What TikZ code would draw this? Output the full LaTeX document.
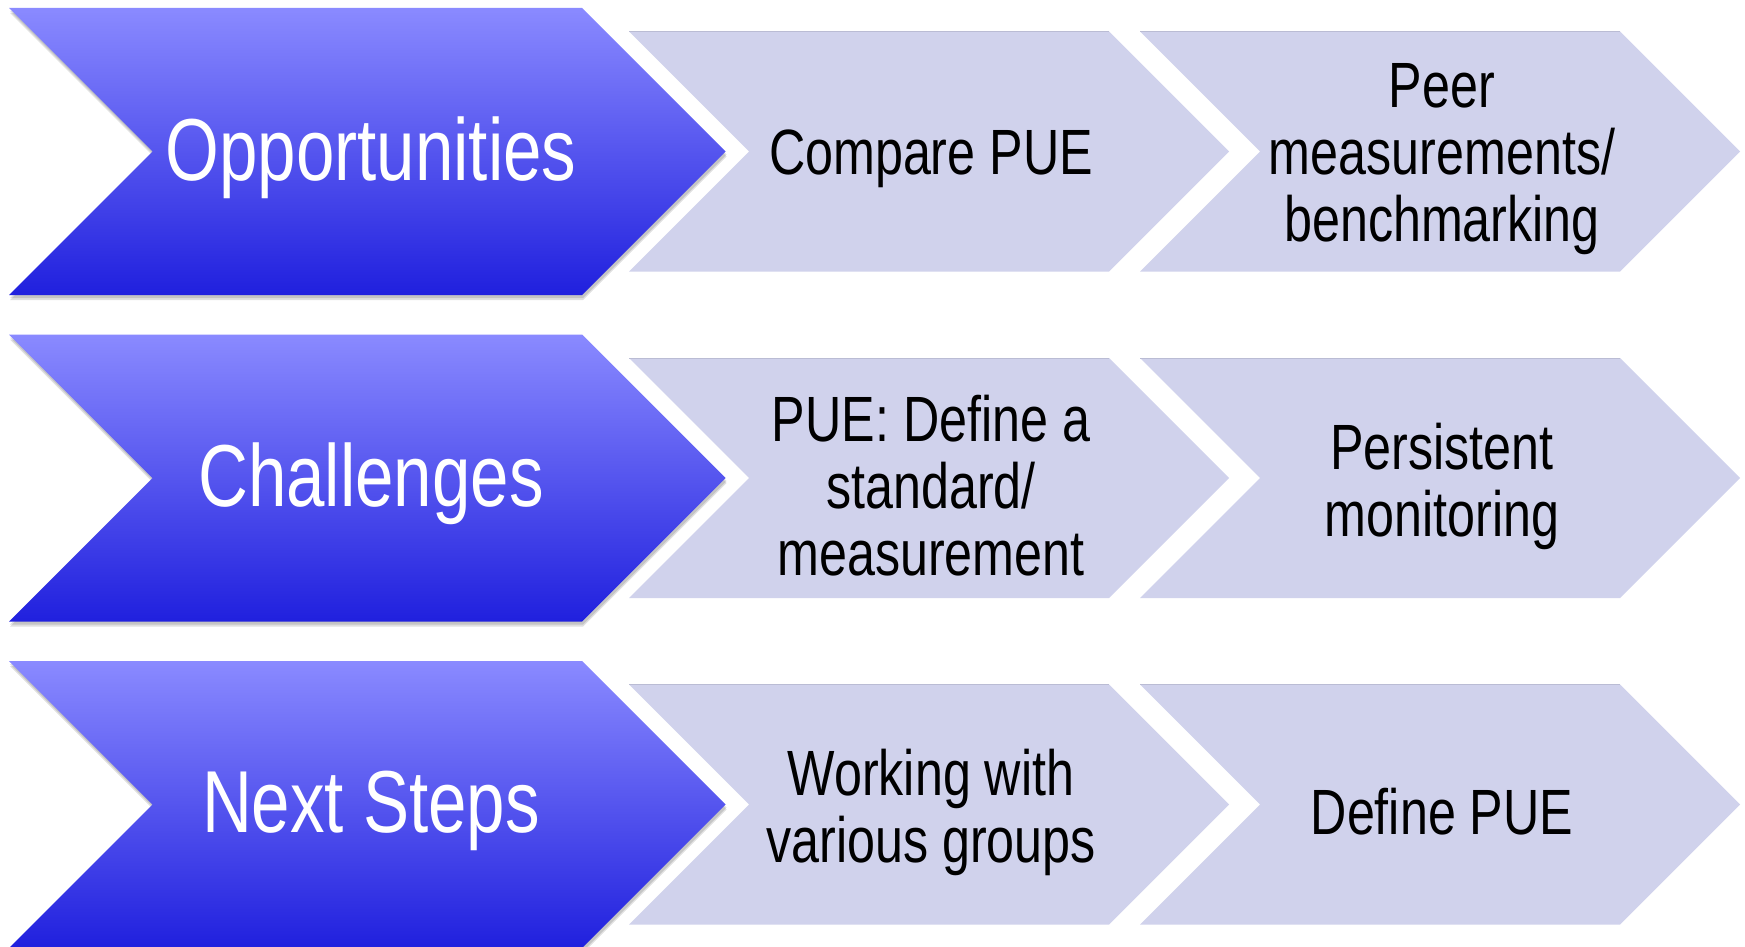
\documentclass[tikz,border=0pt]{standalone}
\usepackage{fontspec}
\newfontfamily\chevfont[FakeStretch=0.785]{Liberation Sans}
\definecolor{bluetop}{RGB}{138,138,255}
\definecolor{bluebot}{RGB}{32,32,222}
\definecolor{lav}{RGB}{208,210,236}
\definecolor{lavedge}{RGB}{186,188,212}
\tikzset{
  bluechev/.style={top color=bluetop, bottom color=bluebot, draw=none},
  lightchev/.style={fill=lav, draw=none},
  chevshadow/.style={fill=black, opacity=0.12, draw=none},
  bluetext/.style={text=white, font=\chevfont\fontsize{88}{92}\selectfont, align=center, inner sep=0pt},
  lighttext/.style={text=black, font=\chevfont\fontsize{64}{67}\selectfont, align=center, inner sep=0pt},
}
% #1 x0, #2 top, #3 body width, #4 height, #5 style
\newcommand\chevron[5]{%
  \path[#5] (#1,#2) -- ++(#3,0) -- ++(#4/2,#4/2) -- ++(-#4/2,#4/2) -- ++(-#3,0) -- ++(#4/2,-#4/2) -- cycle;}
\newcommand\bluechevron[2]{%
  \chevron{#1+1}{#2+5}{573}{287}{chevshadow}%
  \chevron{#1+1}{#2+3}{573}{287}{chevshadow}%
  \chevron{#1}{#2}{573}{287}{bluechev}}
\newcommand\lightchevron[2]{%
  \chevron{#1}{#2}{480}{240}{lightchev}%
  \draw[lavedge, line width=0.9pt] (#1,#2) -- ++(480,0);}
\begin{document}
\begin{tikzpicture}[x=1pt,y=-1pt]
\useasboundingbox (0,0) rectangle (1745,947);
\clip (0,0) rectangle (1745,947);
\fill[white] (0,0) rectangle (1745,947);
% row 1
\bluechevron{9}{8}
\lightchevron{629}{31.5}
\lightchevron{1140}{31.5}
\node[bluetext] (opp) at (371,157.5) {Opportunities};
\node[lighttext] (opp1) at (931,159) {Compare PUE};
\node[lighttext] (opp2) at (1442,159) {Peer\\measurements/\\benchmarking};
% row 2
\bluechevron{9}{334.5}
\lightchevron{629}{358}
\lightchevron{1140}{358}
\node[bluetext] (cha) at (371,484) {Challenges};
\node[lighttext] (cha1) at (931,486) {PUE: Define a\\standard/\\measurement};
\node[lighttext] (cha2) at (1442,486) {Persistent\\monitoring};
% row 3
\bluechevron{9}{661}
\lightchevron{629}{684.5}
\lightchevron{1140}{684.5}
\node[bluetext] (nxt) at (371,810.5) {Next Steps};
\node[lighttext] (nxt1) at (931,812) {Working with\\various groups};
\node[lighttext] (nxt2) at (1442,812) {Define PUE};
\end{tikzpicture}
\end{document}
